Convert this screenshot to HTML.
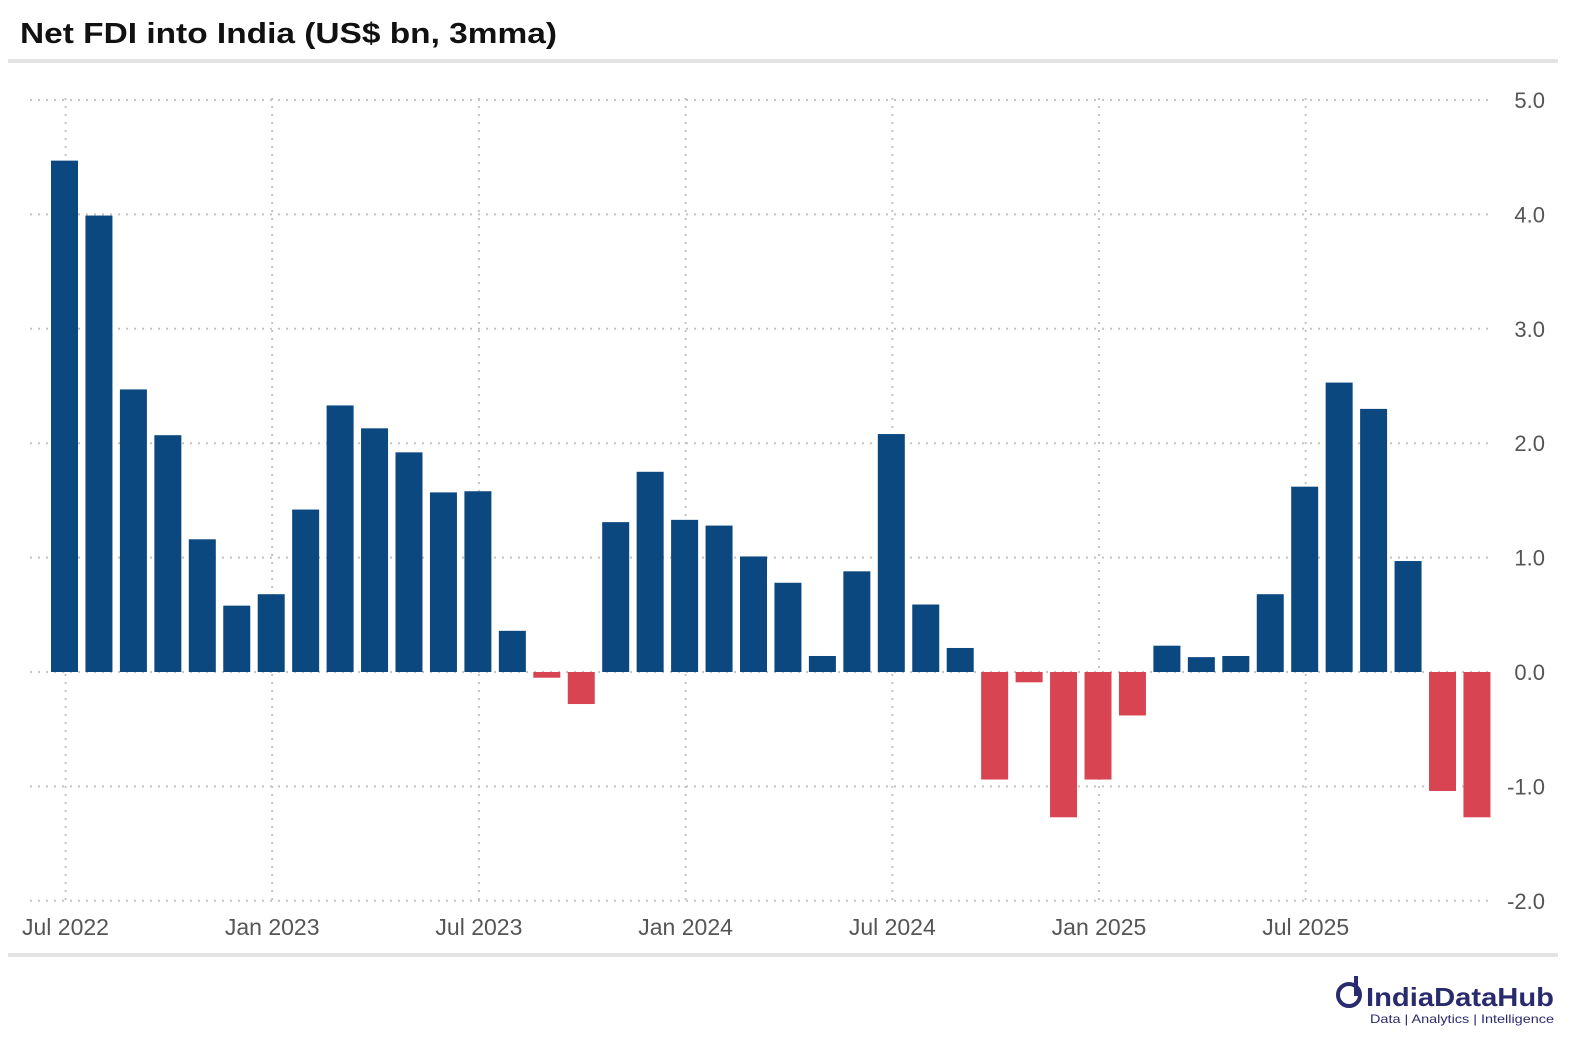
<!DOCTYPE html>
<html><head><meta charset="utf-8"><style>
body{margin:0;background:#fff;font-family:"Liberation Sans",sans-serif;}
svg{display:block}
</style></head><body>
<svg width="1569" height="1042" viewBox="0 0 1569 1042">
<text x="20" y="43" font-size="29" font-weight="bold" fill="#111" textLength="537" lengthAdjust="spacingAndGlyphs">Net FDI into India (US$ bn, 3mma)</text>
<rect x="8" y="59" width="1550" height="4" fill="#e3e3e3"/>
<rect x="8" y="953" width="1550" height="4" fill="#e3e3e3"/>
<g id="grid"></g><g id="bars"></g><g id="labels"></g>
<g>
<circle cx="1349" cy="995" r="11" fill="none" stroke="#2a2a6e" stroke-width="4"/>
<rect x="1354" y="976" width="4" height="20" fill="#2a2a6e"/>
<text x="1366" y="1006" font-size="26" font-weight="bold" fill="#2a2a6e" textLength="188" lengthAdjust="spacingAndGlyphs">IndiaDataHub</text>
<text x="1370" y="1023" font-size="12" fill="#2a2a6e" textLength="184" lengthAdjust="spacingAndGlyphs">Data | Analytics | Intelligence</text>
</g>
</svg>
<script>
const values=[4.47,3.99,2.47,2.07,1.16,0.58,0.68,1.42,2.33,2.13,1.92,1.57,1.58,0.36,-0.05,-0.28,1.31,1.75,1.33,1.28,1.01,0.78,0.14,0.88,2.08,0.59,0.21,-0.94,-0.09,-1.27,-0.94,-0.38,0.23,0.13,0.14,0.68,1.62,2.53,2.30,0.97,-1.04,-1.27];
const yTicks=[5,4,3,2,1,0,-1,-2];
const xLabels=["Jul 2022","Jan 2023","Jul 2023","Jan 2024","Jul 2024","Jan 2025","Jul 2025"];
const NS="http://www.w3.org/2000/svg";
const y=v=>672-v*114.4;
const x=i=>64.5+i*34.45;
const grid=document.getElementById('grid'),bars=document.getElementById('bars'),labels=document.getElementById('labels');
function mk(t,a,p){const e=document.createElementNS(NS,t);for(const k in a)e.setAttribute(k,a[k]);p.appendChild(e);return e;}
yTicks.forEach(v=>{
 const l=mk('line',{x1:30,x2:1492,y1:y(v),y2:y(v),stroke:'#c4c4c4','stroke-width':2,'stroke-dasharray':'2,6'},grid);
 
 
 const t=mk('text',{x:1545,y:y(v)+8,'font-size':22,fill:'#555','text-anchor':'end'},labels);
 t.textContent=v.toFixed(1);
 
 
});
xLabels.forEach((s,k)=>{
 const xx=x(k*6)+1;
 const l=mk('line',{x1:xx,x2:xx,y1:98,y2:905,stroke:'#c4c4c4','stroke-width':2,'stroke-dasharray':'2,6'},grid);
 
 
 const t=mk('text',{x:xx,y:935,'font-size':23,fill:'#555','text-anchor':'middle'},labels);
 t.textContent=s;
 
 
});
values.forEach((v,i)=>{
 const top=Math.min(y(v),y(0)),h=Math.abs(y(v)-y(0));
 const r=mk('rect',{x:x(i)-13.5,y:top,width:27,height:h,fill:v>=0?'#0b4880':'#d94452'},bars);
 
 
});
</script>
</body></html>
